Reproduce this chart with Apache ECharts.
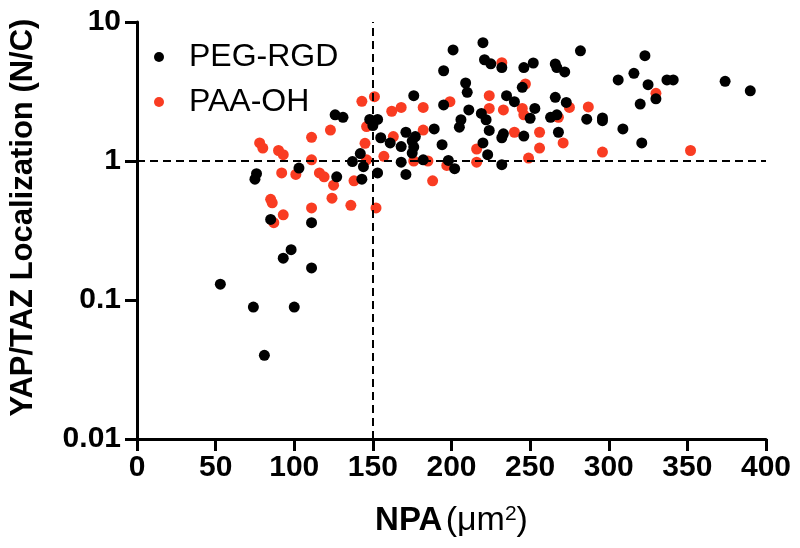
<!DOCTYPE html>
<html>
<head>
<meta charset="utf-8">
<script src="https://cdn.jsdelivr.net/npm/echarts@6/dist/echarts.min.js"></script>
<style>
  html, body { margin: 0; padding: 0; background: #fff; }
  #main { width: 800px; height: 548px; }
</style>
</head>
<body>
<div id="main"></div>
<script>
// NPA (um^2), YAP/TAZ N/C ratio
var pegRgd = [
    [75, 0.74], [76, 0.81], [103, 0.89], [85, 0.38], [111, 0.36], [127, 0.77],
    [126, 2.15], [131, 2.06], [137, 0.99], [142, 1.13], [144, 0.91], [143, 0.74],
    [148, 1.99], [153, 1.99], [150, 1.8], [155, 1.47], [153, 0.82], [161, 1.35],
    [168, 1.27], [171, 1.61], [176, 2.95], [175, 1.39], [177, 1.5], [176, 1.26],
    [175, 1.14], [168, 0.98], [171, 0.8], [182, 1.02], [189, 1.7], [194, 1.31],
    [195, 4.46], [195, 2.53], [198, 1.01], [201, 6.3], [202, 0.88], [209, 3.64],
    [210, 3.12], [211, 2.33], [206, 1.98], [205, 1.75], [220, 7.1], [221, 5.35],
    [225, 5.0], [232, 4.7], [246, 4.7], [252, 5.07], [245, 3.39], [235, 2.95],
    [240, 2.67], [219, 2.2], [222, 1.98], [224, 1.66], [232, 1.47], [233, 1.57],
    [246, 1.51], [253, 2.39], [250, 2.03], [220, 1.35], [223, 1.11], [232, 0.94],
    [266, 4.99], [267, 4.7], [272, 4.37], [266, 2.87], [273, 2.64], [263, 2.06],
    [267, 2.15], [268, 1.61], [282, 6.2], [286, 2.0], [296, 2.04], [296, 1.95],
    [306, 3.83], [316, 4.27], [323, 5.72], [325, 3.54], [309, 1.7], [320, 2.57],
    [330, 2.8], [321, 1.35], [337, 3.83], [341, 3.83], [374, 3.74], [390, 3.2],
    [53, 0.13], [74, 0.089], [100, 0.089], [81, 0.04], [93, 0.2], [98, 0.23],
    [111, 0.17]
];
var paaOh = [
    [78, 1.35], [80, 1.24], [90, 1.19], [93, 1.11], [92, 0.82], [101, 0.8],
    [85, 0.53], [86, 0.5], [93, 0.41], [87, 0.36], [111, 1.48], [111, 1.02],
    [111, 0.46], [116, 0.82], [119, 0.77], [123, 1.67], [125, 0.67], [124, 0.54],
    [136, 0.48], [138, 0.72], [143, 2.69], [151, 2.9], [146, 1.77], [145, 1.34],
    [146, 1.02], [152, 0.46], [157, 1.08], [163, 1.5], [162, 2.28], [168, 2.43],
    [182, 2.43], [182, 1.67], [176, 1.0], [185, 1.0], [188, 0.72], [197, 0.93],
    [199, 2.67], [232, 5.1], [224, 2.95], [224, 2.39], [233, 2.33], [247, 3.58],
    [245, 2.39], [246, 2.15], [268, 2.06], [240, 1.61], [216, 1.22], [216, 0.98],
    [256, 1.61], [256, 1.24], [249, 1.05], [271, 1.35], [275, 2.43], [287, 2.45],
    [296, 1.16], [330, 3.07], [352, 1.19]
];
var yTicks = [0.01, 0.1, 1, 10];
var cutX = 150, cutY = 1;

var myChart = echarts.init(document.getElementById('main'));
var axisFont = 'Liberation Sans, Arial, sans-serif';

var option = {
    animation: false,
    backgroundColor: '#fff',
    grid: {
        left: 137,
        right: 34,
        top: 22,
        bottom: 109,
        containLabel: false,
        outerBoundsMode: 'none'
    },
    legend: {
        data: ['PEG-RGD', 'PAA-OH'],
        orient: 'vertical',
        left: 149,
        top: 36,
        icon: 'circle',
        itemWidth: 10,
        itemHeight: 10,
        itemGap: 13,
        textStyle: {
            fontFamily: axisFont,
            fontSize: 32,
            color: '#000',
            padding: [0, 0, 0, 20]
        }
    },
    xAxis: {
        type: 'value',
        min: 0,
        max: 400,
        interval: 50,
        name: '{b|NPA} {n|(μm}{s|2}{n|)}',
        nameLocation: 'middle',
        nameGap: 65,
        nameTextStyle: {
            rich: {
                b: { fontFamily: axisFont, fontWeight: 'bold', fontSize: 33, color: '#000' },
                n: { fontFamily: axisFont, fontSize: 34, color: '#000' },
                s: { fontFamily: axisFont, fontSize: 21, color: '#000', verticalAlign: 'top', padding: [0, 0, 12, 0] }
            }
        },
        splitLine: { show: false },
        axisLine: { lineStyle: { color: '#000', width: 3 } },
        axisTick: { length: 12, lineStyle: { color: '#000', width: 3 } },
        axisLabel: {
            margin: 14,
            fontFamily: axisFont,
            fontWeight: 'bold',
            fontSize: 30,
            color: '#000'
        }
    },
    yAxis: {
        type: 'log',
        logBase: 10,
        min: 0.01,
        max: 10,
        name: 'YAP/TAZ Localization (N/C)',
        nameLocation: 'middle',
        nameGap: 98,
        nameTextStyle: {
            fontFamily: axisFont,
            fontWeight: 'bold',
            fontSize: 31,
            color: '#000',
            padding: [0, 0, 0, 26]
        },
        splitLine: { show: false },
        minorTick: { show: false },
        axisLine: { show: true, lineStyle: { color: '#000', width: 3 } },
        axisTick: { show: true, length: 12, lineStyle: { color: '#000', width: 3 } },
        axisLabel: {
            margin: 16,
            fontFamily: axisFont,
            fontWeight: 'bold',
            fontSize: 30,
            color: '#000',
            formatter: function (v) {
                for (var i = 0; i < yTicks.length; i++) {
                    if (Math.abs(v - yTicks[i]) < yTicks[i] * 1e-6) return String(yTicks[i]);
                }
                return '';
            }
        }
    },
    series: [
        {
            name: 'PAA-OH',
            type: 'scatter',
            symbolSize: 11,
            itemStyle: { color: '#f93c22', opacity: 1 },
            data: paaOh,
            z: 2
        },
        {
            name: 'PEG-RGD',
            type: 'scatter',
            symbolSize: 11,
            itemStyle: { color: '#000', opacity: 1 },
            data: pegRgd,
            z: 3,
            markLine: {
                silent: true,
                symbol: 'none',
                label: { show: false },
                lineStyle: { color: '#000', width: 2, type: [8, 5] },
                data: [
                    { xAxis: cutX },
                    { yAxis: cutY }
                ]
            }
        }
    ]
};
myChart.setOption(option);
</script>
</body>
</html>
